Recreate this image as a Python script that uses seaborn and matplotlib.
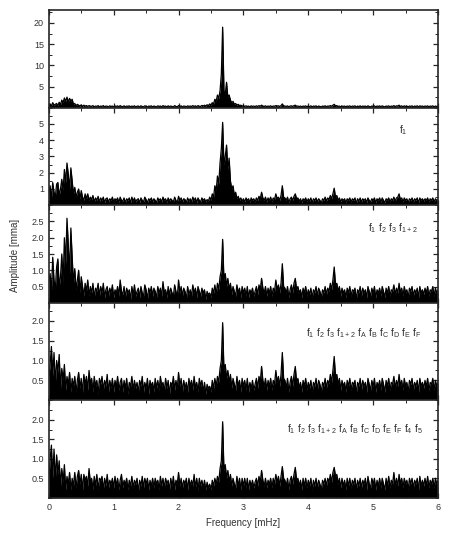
import numpy as np
import pandas as pd
import seaborn as sns
import matplotlib.pyplot as plt
from matplotlib.ticker import MultipleLocator

# frequency grid [mHz], 0.02 mHz sampling (301 points)
freq = np.round(np.arange(301) * 0.02, 2)

# amplitude [mma] (top to bottom), one row = 0.2 mHz
amp_all = [0.5, 0.9, 0.4, 1.2, 0.6, 0.8, 1.0, 0.5, 1.3, 0.7,
           1.8, 1.2, 2.3, 1.5, 2.5, 1.4, 2.2, 1.6, 2.0, 0.8,
           1.0, 0.5, 0.8, 0.6, 0.4, 0.7, 0.3, 0.6, 0.4, 0.5,
           0.3, 0.5, 0.4, 0.3, 0.5, 0.2, 0.4, 0.3, 0.5, 0.2,
           0.4, 0.3, 0.5, 0.2, 0.4, 0.35, 0.2, 0.45, 0.3, 0.4,
           0.2, 0.4, 0.3, 0.45, 0.2, 0.5, 0.3, 0.25, 0.45, 0.2,
           0.4, 0.3, 0.45, 0.2, 0.4, 0.25, 0.45, 0.2, 0.35, 0.4,
           0.2, 0.45, 0.3, 0.2, 0.45, 0.35, 0.15, 0.4, 0.3, 0.45,
           0.2, 0.4, 0.3, 0.2, 0.45, 0.3, 0.4, 0.2, 0.5, 0.3,
           0.4, 0.2, 0.45, 0.25, 0.4, 0.3, 0.2, 0.5, 0.3, 0.2,
           0.5, 0.3, 0.45, 0.2, 0.4, 0.35, 0.2, 0.45, 0.3, 0.4,
           0.3, 0.5, 0.3, 0.45, 0.25, 0.5, 0.35, 0.3, 0.55, 0.4,
           0.6, 0.4, 0.7, 0.5, 0.9, 0.6, 1.2, 0.9, 2.0, 1.5,
           3.0, 2.2, 4.0, 8.0, 19.0, 4.0, 3.2, 6.0, 2.5, 3.0,
           1.8, 1.2, 1.5, 0.8, 1.0, 0.6, 0.8, 0.5, 0.6, 0.4,
           0.5, 0.3, 0.45, 0.3, 0.4, 0.2, 0.45, 0.3, 0.4, 0.25,
           0.45, 0.3, 0.5, 0.35, 0.6, 0.4, 0.3, 0.45, 0.25, 0.4,
           0.3, 0.45, 0.25, 0.4, 0.35, 0.5, 0.4, 0.45, 0.3, 0.5,
           0.9, 0.45, 0.4, 0.3, 0.45, 0.2, 0.4, 0.45, 0.3, 0.5,
           0.6, 0.35, 0.4, 0.25, 0.4, 0.2, 0.4, 0.3, 0.45, 0.2,
           0.4, 0.25, 0.45, 0.2, 0.4, 0.3, 0.45, 0.2, 0.4, 0.3,
           0.2, 0.4, 0.3, 0.45, 0.25, 0.4, 0.35, 0.5, 0.35, 0.6,
           0.8, 0.45, 0.5, 0.3, 0.4, 0.2, 0.4, 0.3, 0.4, 0.2,
           0.4, 0.3, 0.45, 0.2, 0.4, 0.3, 0.45, 0.15, 0.4, 0.25,
           0.45, 0.2, 0.4, 0.3, 0.4, 0.2, 0.45, 0.3, 0.2, 0.4,
           0.3, 0.45, 0.2, 0.4, 0.3, 0.45, 0.2, 0.45, 0.3, 0.2,
           0.4, 0.3, 0.45, 0.2, 0.4, 0.3, 0.5, 0.25, 0.45, 0.4,
           0.6, 0.3, 0.45, 0.2, 0.45, 0.3, 0.4, 0.2, 0.4, 0.3,
           0.45, 0.2, 0.4, 0.3, 0.45, 0.2, 0.45, 0.3, 0.4, 0.25,
           0.4, 0.3, 0.45, 0.2, 0.4, 0.3, 0.45, 0.2, 0.4, 0.3,
           0.35]

amp_f1 = [0.6, 1.2, 0.4, 1.4, 0.8, 0.5, 1.3, 1.4, 0.6, 1.0,
          1.6, 0.9, 2.2, 1.4, 2.6, 1.9, 1.0, 2.3, 1.5, 0.7,
          1.1, 0.5, 0.8, 1.0, 0.4, 0.9, 0.5, 0.3, 0.7, 0.4,
          0.7, 0.3, 0.5, 0.35, 0.6, 0.2, 0.45, 0.3, 0.55, 0.2,
          0.45, 0.3, 0.5, 0.15, 0.4, 0.45, 0.2, 0.4, 0.3, 0.5,
          0.2, 0.4, 0.3, 0.45, 0.15, 0.5, 0.3, 0.25, 0.45, 0.15,
          0.4, 0.3, 0.45, 0.15, 0.5, 0.25, 0.45, 0.2, 0.35, 0.4,
          0.15, 0.45, 0.3, 0.2, 0.5, 0.35, 0.15, 0.4, 0.3, 0.45,
          0.2, 0.4, 0.3, 0.15, 0.45, 0.3, 0.4, 0.2, 0.5, 0.3,
          0.4, 0.15, 0.45, 0.25, 0.4, 0.3, 0.2, 0.5, 0.3, 0.15,
          0.55, 0.3, 0.45, 0.2, 0.4, 0.35, 0.15, 0.45, 0.25, 0.4,
          0.2, 0.5, 0.3, 0.45, 0.15, 0.45, 0.3, 0.2, 0.45, 0.3,
          0.4, 0.2, 0.35, 0.25, 0.5, 0.3, 0.7, 0.5, 1.2, 0.9,
          1.8, 1.3, 2.6, 3.5, 5.1, 2.5, 3.0, 3.7, 2.2, 2.9,
          1.5, 1.0, 1.2, 0.6, 0.8, 0.4, 0.55, 0.3, 0.45, 0.25,
          0.4, 0.2, 0.45, 0.3, 0.4, 0.15, 0.45, 0.3, 0.4, 0.2,
          0.45, 0.3, 0.55, 0.4, 0.8, 0.45, 0.3, 0.5, 0.2, 0.45,
          0.3, 0.5, 0.2, 0.45, 0.35, 0.7, 0.4, 0.5, 0.3, 0.6,
          1.2, 0.5, 0.45, 0.3, 0.5, 0.15, 0.4, 0.5, 0.3, 0.55,
          0.7, 0.4, 0.45, 0.25, 0.4, 0.15, 0.4, 0.3, 0.45, 0.2,
          0.4, 0.25, 0.45, 0.15, 0.4, 0.3, 0.45, 0.2, 0.4, 0.3,
          0.15, 0.4, 0.3, 0.5, 0.25, 0.45, 0.35, 0.6, 0.4, 0.7,
          1.05, 0.5, 0.6, 0.3, 0.45, 0.2, 0.4, 0.3, 0.4, 0.15,
          0.4, 0.3, 0.45, 0.2, 0.4, 0.3, 0.45, 0.1, 0.4, 0.25,
          0.45, 0.2, 0.4, 0.3, 0.4, 0.15, 0.45, 0.3, 0.2, 0.4,
          0.3, 0.45, 0.15, 0.4, 0.3, 0.45, 0.2, 0.45, 0.3, 0.15,
          0.4, 0.3, 0.45, 0.2, 0.4, 0.3, 0.5, 0.25, 0.45, 0.5,
          0.7, 0.35, 0.45, 0.2, 0.45, 0.3, 0.4, 0.15, 0.4, 0.3,
          0.45, 0.2, 0.4, 0.3, 0.45, 0.15, 0.45, 0.3, 0.4, 0.25,
          0.4, 0.3, 0.45, 0.2, 0.4, 0.3, 0.45, 0.2, 0.4, 0.3,
          0.35]

amp_f12 = [0.6, 0.9, 0.3, 1.4, 0.7, 0.4, 1.1, 1.35, 0.5, 0.8,
           1.5, 0.6, 2.0, 1.2, 2.6, 1.8, 0.9, 2.3, 1.4, 0.6,
           1.05, 0.4, 0.7, 1.0, 0.3, 0.8, 0.5, 0.2, 0.6, 0.35,
           0.7, 0.2, 0.5, 0.3, 0.6, 0.15, 0.45, 0.35, 0.6, 0.2,
           0.5, 0.3, 0.6, 0.15, 0.4, 0.5, 0.2, 0.45, 0.3, 0.55,
           0.15, 0.4, 0.3, 0.5, 0.2, 0.7, 0.35, 0.25, 0.5, 0.15,
           0.45, 0.3, 0.4, 0.1, 0.5, 0.25, 0.55, 0.2, 0.35, 0.45,
           0.15, 0.5, 0.3, 0.2, 0.55, 0.4, 0.1, 0.45, 0.3, 0.5,
           0.2, 0.45, 0.35, 0.15, 0.5, 0.3, 0.45, 0.2, 0.65, 0.3,
           0.4, 0.15, 0.5, 0.25, 0.45, 0.3, 0.2, 0.55, 0.35, 0.15,
           0.7, 0.3, 0.5, 0.2, 0.45, 0.35, 0.1, 0.5, 0.25, 0.4,
           0.2, 0.55, 0.3, 0.45, 0.15, 0.5, 0.35, 0.2, 0.45, 0.3,
           0.4, 0.1, 0.35, 0.25, 0.3, 0.15, 0.45, 0.3, 0.55, 0.25,
           0.6, 0.4, 0.8, 1.0, 1.95, 0.7, 0.9, 0.5, 0.75, 0.4,
           0.6, 0.25, 0.5, 0.35, 0.2, 0.55, 0.3, 0.45, 0.15, 0.5,
           0.3, 0.45, 0.2, 0.5, 0.15, 0.4, 0.3, 0.45, 0.2, 0.35,
           0.5, 0.25, 0.55, 0.4, 0.75, 0.45, 0.3, 0.5, 0.2, 0.45,
           0.3, 0.5, 0.2, 0.45, 0.35, 0.7, 0.4, 0.55, 0.3, 0.6,
           1.2, 0.5, 0.45, 0.3, 0.5, 0.15, 0.4, 0.55, 0.3, 0.6,
           0.75, 0.4, 0.5, 0.3, 0.4, 0.15, 0.45, 0.3, 0.5, 0.2,
           0.4, 0.25, 0.45, 0.15, 0.4, 0.3, 0.5, 0.2, 0.45, 0.35,
           0.15, 0.4, 0.3, 0.5, 0.25, 0.45, 0.35, 0.6, 0.4, 0.7,
           1.1, 0.55, 0.6, 0.35, 0.5, 0.2, 0.45, 0.3, 0.4, 0.15,
           0.45, 0.3, 0.5, 0.2, 0.4, 0.35, 0.45, 0.1, 0.4, 0.3,
           0.5, 0.2, 0.45, 0.3, 0.4, 0.15, 0.5, 0.35, 0.2, 0.45,
           0.3, 0.5, 0.15, 0.4, 0.3, 0.45, 0.2, 0.5, 0.35, 0.15,
           0.45, 0.3, 0.5, 0.2, 0.4, 0.35, 0.55, 0.25, 0.45, 0.3,
           0.6, 0.3, 0.45, 0.2, 0.5, 0.3, 0.4, 0.15, 0.45, 0.35,
           0.5, 0.2, 0.4, 0.3, 0.45, 0.15, 0.5, 0.3, 0.4, 0.25,
           0.45, 0.3, 0.5, 0.2, 0.4, 0.35, 0.5, 0.2, 0.45, 0.3,
           0.4]

amp_fF = [0.5, 0.9, 1.35, 0.6, 1.2, 0.4, 1.0, 0.7, 1.15, 0.3,
          0.8, 0.5, 0.9, 0.25, 0.6, 0.4, 0.7, 0.2, 0.55, 0.35,
          0.6, 0.2, 0.5, 0.7, 0.3, 0.55, 0.2, 0.65, 0.4, 0.6,
          0.25, 0.75, 0.4, 0.55, 0.2, 0.6, 0.35, 0.5, 0.15, 0.55,
          0.4, 0.6, 0.25, 0.5, 0.35, 0.65, 0.2, 0.5, 0.3, 0.55,
          0.2, 0.5, 0.35, 0.6, 0.25, 0.45, 0.55, 0.2, 0.5, 0.3,
          0.55, 0.15, 0.45, 0.35, 0.6, 0.25, 0.5, 0.3, 0.45, 0.2,
          0.5, 0.35, 0.6, 0.2, 0.45, 0.3, 0.55, 0.15, 0.5, 0.35,
          0.45, 0.2, 0.55, 0.3, 0.5, 0.25, 0.6, 0.35, 0.45, 0.2,
          0.55, 0.3, 0.5, 0.15, 0.45, 0.35, 0.6, 0.25, 0.5, 0.3,
          0.7, 0.35, 0.55, 0.2, 0.5, 0.3, 0.45, 0.2, 0.55, 0.35,
          0.5, 0.25, 0.6, 0.3, 0.45, 0.2, 0.55, 0.35, 0.5, 0.2,
          0.45, 0.15, 0.4, 0.3, 0.35, 0.2, 0.5, 0.3, 0.55, 0.35,
          0.6, 0.45, 0.8, 1.0, 1.95, 0.75, 0.9, 0.55, 0.75, 0.45,
          0.65, 0.3, 0.55, 0.4, 0.25, 0.6, 0.35, 0.5, 0.2, 0.55,
          0.35, 0.5, 0.25, 0.55, 0.2, 0.45, 0.3, 0.5, 0.25, 0.4,
          0.55, 0.3, 0.6, 0.45, 0.85, 0.5, 0.35, 0.55, 0.25, 0.5,
          0.35, 0.55, 0.25, 0.5, 0.4, 0.75, 0.45, 0.6, 0.35, 0.65,
          1.2, 0.55, 0.5, 0.3, 0.55, 0.2, 0.45, 0.6, 0.35, 0.65,
          0.85, 0.45, 0.55, 0.3, 0.45, 0.2, 0.5, 0.35, 0.55, 0.25,
          0.45, 0.3, 0.5, 0.2, 0.45, 0.35, 0.55, 0.25, 0.5, 0.4,
          0.2, 0.45, 0.35, 0.55, 0.3, 0.5, 0.4, 0.65, 0.45, 0.75,
          1.1, 0.6, 0.65, 0.4, 0.55, 0.25, 0.5, 0.35, 0.45, 0.2,
          0.5, 0.35, 0.55, 0.25, 0.45, 0.4, 0.5, 0.15, 0.45, 0.35,
          0.55, 0.25, 0.5, 0.35, 0.45, 0.2, 0.55, 0.4, 0.25, 0.5,
          0.35, 0.55, 0.2, 0.45, 0.35, 0.5, 0.25, 0.55, 0.4, 0.2,
          0.5, 0.35, 0.55, 0.25, 0.45, 0.4, 0.6, 0.3, 0.5, 0.35,
          0.65, 0.35, 0.5, 0.25, 0.55, 0.35, 0.45, 0.2, 0.5, 0.4,
          0.55, 0.25, 0.45, 0.35, 0.5, 0.2, 0.55, 0.35, 0.45, 0.3,
          0.5, 0.35, 0.55, 0.25, 0.45, 0.4, 0.55, 0.25, 0.5, 0.35,
          0.45]

amp_f5 = [0.4, 1.0, 1.35, 0.5, 1.25, 0.45, 1.1, 0.6, 0.95, 0.3,
          0.75, 0.4, 0.85, 0.2, 0.55, 0.35, 0.65, 0.2, 0.5, 0.3,
          0.65, 0.25, 0.55, 0.7, 0.35, 0.6, 0.2, 0.6, 0.45, 0.55,
          0.3, 0.75, 0.4, 0.5, 0.2, 0.55, 0.3, 0.6, 0.2, 0.5,
          0.45, 0.55, 0.2, 0.5, 0.3, 0.6, 0.25, 0.45, 0.35, 0.5,
          0.25, 0.55, 0.3, 0.5, 0.2, 0.45, 0.6, 0.25, 0.45, 0.35,
          0.5, 0.2, 0.45, 0.3, 0.55, 0.25, 0.45, 0.35, 0.5, 0.15,
          0.45, 0.3, 0.55, 0.25, 0.5, 0.35, 0.5, 0.2, 0.45, 0.3,
          0.5, 0.25, 0.5, 0.35, 0.45, 0.2, 0.55, 0.3, 0.5, 0.25,
          0.5, 0.35, 0.45, 0.2, 0.5, 0.3, 0.55, 0.2, 0.45, 0.35,
          0.65, 0.3, 0.5, 0.25, 0.45, 0.35, 0.5, 0.2, 0.5, 0.3,
          0.45, 0.3, 0.6, 0.25, 0.5, 0.2, 0.5, 0.3, 0.45, 0.25,
          0.45, 0.2, 0.4, 0.25, 0.35, 0.2, 0.45, 0.3, 0.5, 0.35,
          0.55, 0.4, 0.75, 0.95, 1.95, 0.7, 0.85, 0.5, 0.7, 0.4,
          0.6, 0.3, 0.5, 0.35, 0.25, 0.55, 0.3, 0.5, 0.2, 0.5,
          0.3, 0.5, 0.25, 0.5, 0.2, 0.45, 0.3, 0.45, 0.25, 0.4,
          0.5, 0.3, 0.55, 0.4, 0.7, 0.45, 0.3, 0.5, 0.25, 0.45,
          0.35, 0.5, 0.25, 0.5, 0.35, 0.6, 0.4, 0.55, 0.3, 0.55,
          0.8, 0.5, 0.45, 0.3, 0.5, 0.2, 0.45, 0.55, 0.35, 0.6,
          0.78, 0.45, 0.5, 0.3, 0.45, 0.2, 0.5, 0.3, 0.5, 0.25,
          0.45, 0.3, 0.5, 0.2, 0.45, 0.3, 0.5, 0.25, 0.45, 0.35,
          0.2, 0.45, 0.35, 0.5, 0.3, 0.5, 0.4, 0.6, 0.4, 0.65,
          0.78, 0.55, 0.6, 0.35, 0.5, 0.25, 0.5, 0.3, 0.45, 0.2,
          0.5, 0.3, 0.5, 0.25, 0.45, 0.35, 0.5, 0.2, 0.45, 0.3,
          0.5, 0.25, 0.45, 0.35, 0.5, 0.2, 0.55, 0.35, 0.25, 0.5,
          0.35, 0.5, 0.2, 0.45, 0.3, 0.5, 0.25, 0.5, 0.35, 0.2,
          0.5, 0.3, 0.55, 0.25, 0.45, 0.35, 0.65, 0.3, 0.5, 0.3,
          0.6, 0.35, 0.5, 0.25, 0.5, 0.35, 0.45, 0.2, 0.5, 0.35,
          0.5, 0.25, 0.45, 0.35, 0.5, 0.2, 0.55, 0.3, 0.45, 0.3,
          0.5, 0.3, 0.55, 0.25, 0.45, 0.35, 0.5, 0.25, 0.5, 0.35,
          0.45]

ytick_all = ['5', '10', '15', '20']
ytick_f1 = ['1', '2', '3', '4', '5']
ytick_f12 = ['0.5', '1.0', '1.5', '2.0', '2.5']
ytick_f5 = ['0.5', '1.0', '1.5', '2.0']

label_f1 = 'f$_1$'
label_f12 = 'f$_1$ f$_2$ f$_3$ f$_{1+2}$'
label_fF = 'f$_1$ f$_2$ f$_3$ f$_{1+2}$ f$_A$ f$_B$ f$_C$ f$_D$ f$_E$ f$_F$'
label_f5 = 'f$_1$ f$_2$ f$_3$ f$_{1+2}$ f$_A$ f$_B$ f$_C$ f$_D$ f$_E$ f$_F$ f$_4$ f$_5$'

sns.set_style('ticks')
plt.rcParams['font.family'] = ['Liberation Sans', 'DejaVu Sans']
plt.rcParams['mathtext.default'] = 'regular'

panels = [
    (amp_all, 23.0, ytick_all, 2.5, None, None),
    (amp_f1, 6.0, ytick_f1, 0.5, label_f1, (5.4, 4.6)),
    (amp_f12, 3.0, ytick_f12, 0.25, label_f12, (4.92, 2.3)),
    (amp_fF, 2.45, ytick_f5, 0.25, label_fF, (3.97, 1.68)),
    (amp_f5, 2.5, ytick_f5, 0.25, label_f5, (3.67, 1.75)),
]

fig, axes = plt.subplots(5, 1, figsize=(4.52, 5.37), dpi=100, sharex=True)
fig.subplots_adjust(left=0.108, right=0.969, top=0.981, bottom=0.073, hspace=0)

for ax, (amp, ymax, yticks, yminor, label, pos) in zip(axes, panels):
    df = pd.DataFrame({'freq': freq, 'amp': amp})
    ax.fill_between(df['freq'], 0, df['amp'], color='black', lw=0)
    sns.lineplot(data=df, x='freq', y='amp', ax=ax, color='black', lw=0.9)
    ax.set_xlim(0, 6)
    ax.set_ylim(0, ymax)
    ax.set_yticks([float(t) for t in yticks], labels=yticks)
    ax.yaxis.set_minor_locator(MultipleLocator(yminor))
    ax.xaxis.set_major_locator(MultipleLocator(1))
    ax.xaxis.set_minor_locator(MultipleLocator(0.5))
    ax.tick_params(which='both', direction='in', top=True, right=True,
                   labelsize=6.5, labelcolor='#333333')
    ax.tick_params(which='major', length=3.5, width=0.9)
    ax.tick_params(which='minor', length=2, width=0.7)
    for sp in ax.spines.values():
        sp.set_linewidth(1.2)
    ax.set_xlabel('')
    ax.set_ylabel('')
    if label:
        ax.text(pos[0], pos[1], label, fontsize=7.4, color='#333333', va='center')

axes[-1].set_xticks(range(7), labels=[str(i) for i in range(7)])
fig.text(0.538, 0.026, 'Frequency [mHz]', ha='center', va='center', fontsize=7, color='#333333')
fig.text(0.033, 0.525, 'Amplitude [mma]', ha='center', va='center', rotation=90,
         fontsize=7, color='#333333')

fig.savefig('out.png', dpi=100)
